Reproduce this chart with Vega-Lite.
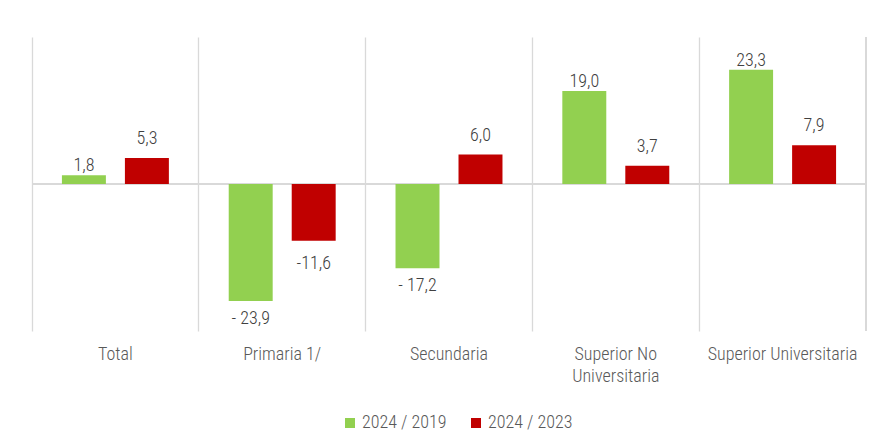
{
  "$schema": "https://vega.github.io/schema/vega-lite/v6.json",
  "autosize": "none",
  "width": 834,
  "height": 294,
  "padding": {"left": 32, "top": 37, "right": 14, "bottom": 115},
  "background": "white",
  "config": {
    "view": {"stroke": null},
    "font": "Roboto Condensed, Liberation Sans, sans-serif"
  },
  "data": {
    "values": [
      {"cat": "Total", "s": "2024 / 2019", "v": 1.8, "lab": "1,8"},
      {"cat": "Total", "s": "2024 / 2023", "v": 5.3, "lab": "5,3"},
      {"cat": "Primaria 1/", "s": "2024 / 2019", "v": -23.9, "lab": "- 23,9"},
      {"cat": "Primaria 1/", "s": "2024 / 2023", "v": -11.6, "lab": "-11,6"},
      {"cat": "Secundaria", "s": "2024 / 2019", "v": -17.2, "lab": "- 17,2"},
      {"cat": "Secundaria", "s": "2024 / 2023", "v": 6.0, "lab": "6,0"},
      {"cat": "Superior No Universitaria", "s": "2024 / 2019", "v": 19.0, "lab": "19,0"},
      {"cat": "Superior No Universitaria", "s": "2024 / 2023", "v": 3.7, "lab": "3,7"},
      {"cat": "Superior Universitaria", "s": "2024 / 2019", "v": 23.3, "lab": "23,3"},
      {"cat": "Superior Universitaria", "s": "2024 / 2023", "v": 7.9, "lab": "7,9"}
    ]
  },
  "encoding": {
    "x": {
      "field": "cat",
      "type": "nominal",
      "sort": null,
      "scale": {
        "domain": ["Total", "Primaria 1/", "Secundaria", "Superior No Universitaria", "Superior Universitaria"],
        "paddingInner": 0,
        "paddingOuter": 0
      },
      "axis": {
        "title": null,
        "orient": "bottom",
        "domain": false,
        "ticks": false,
        "grid": true,
        "gridColor": "#d9d9d9",
        "gridWidth": 1.3,
        "bandPosition": 0,
        "labelAngle": 0,
        "labelFontSize": 18,
        "labelFontWeight": 300,
        "labelColor": "#595959",
        "labelPadding": 14,
        "labelBaseline": "top",
        "labelLineHeight": 22,
        "labelExpr": "datum.label == 'Superior No Universitaria' ? ['Superior No', 'Universitaria'] : datum.label"
      }
    },
    "xOffset": {
      "field": "s",
      "type": "nominal",
      "scale": {"paddingInner": 0.302, "paddingOuter": 0.475}
    },
    "y": {
      "field": "v",
      "type": "quantitative",
      "scale": {"domain": [-30, 30], "nice": false},
      "axis": null
    }
  },
  "layer": [
    {
      "mark": {"type": "rule", "color": "#d9d9d9", "strokeWidth": 1.3},
      "encoding": {
        "x": {"datum": "Superior Universitaria", "bandPosition": 1},
        "xOffset": null,
        "y": null
      }
    },
    {
      "mark": {"type": "rule", "color": "#d9d9d9", "strokeWidth": 1.5},
      "encoding": {
        "x": null,
        "xOffset": null,
        "y": {"datum": 0, "type": "quantitative"}
      }
    },
    {
      "mark": {"type": "bar"},
      "encoding": {
        "y2": {"datum": 0},
        "color": {
          "field": "s",
          "type": "nominal",
          "scale": {"domain": ["2024 / 2019", "2024 / 2023"], "range": ["#92D050", "#C00000"]},
          "legend": {
            "title": null,
            "orient": "none",
            "direction": "horizontal",
            "legendX": 309,
            "legendY": 377,
            "symbolType": "square",
            "symbolSize": 100,
            "symbolStrokeWidth": 0,
            "labelFontSize": 18,
            "labelFontWeight": 300,
            "labelColor": "#595959",
            "labelOffset": 3,
            "columnPadding": 20
          }
        }
      }
    },
    {
      "transform": [{"filter": "datum.v >= 0 && datum.s == '2024 / 2019'"}],
      "mark": {"type": "text", "baseline": "alphabetic", "dy": -4, "fontSize": 18, "fontWeight": 300, "color": "#404040"},
      "encoding": {"text": {"field": "lab"}}
    },
    {
      "transform": [{"filter": "datum.v >= 0 && datum.s == '2024 / 2023'"}],
      "mark": {"type": "text", "baseline": "alphabetic", "dy": -14, "fontSize": 18, "fontWeight": 300, "color": "#404040"},
      "encoding": {"text": {"field": "lab"}}
    },
    {
      "transform": [{"filter": "datum.v < 0 && datum.s == '2024 / 2019'"}],
      "mark": {"type": "text", "baseline": "top", "dy": 9, "fontSize": 18, "fontWeight": 300, "color": "#404040"},
      "encoding": {"text": {"field": "lab"}}
    },
    {
      "transform": [{"filter": "datum.v < 0 && datum.s == '2024 / 2023'"}],
      "mark": {"type": "text", "baseline": "top", "dy": 14, "fontSize": 18, "fontWeight": 300, "color": "#404040"},
      "encoding": {"text": {"field": "lab"}}
    }
  ]
}
